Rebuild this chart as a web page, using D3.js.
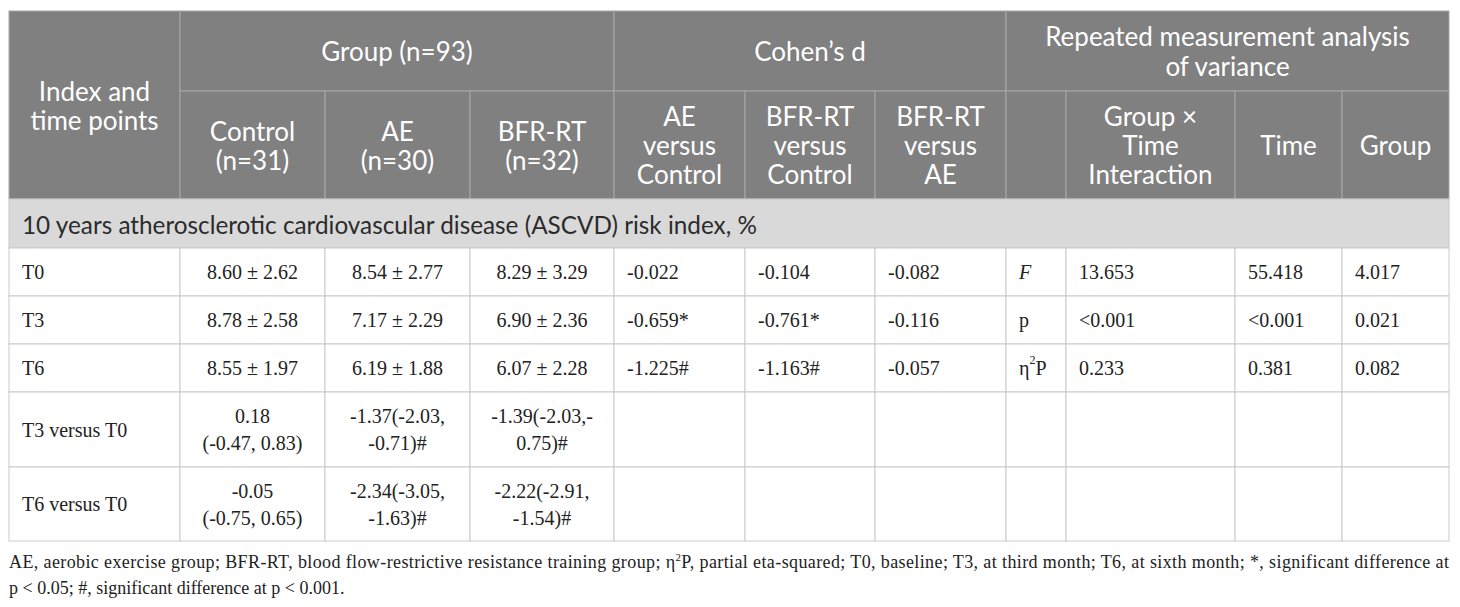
<!DOCTYPE html>
<html>
<head>
<meta charset="utf-8">
<script src="https://cdn.jsdelivr.net/npm/d3@7"></script>
<style>
  body { margin: 0; background: #fff; }
  .hd { font-family: Lato, "Open Sans", sans-serif; font-size: 26px; fill: #fff; }
  .sec { font-family: Lato, "Open Sans", sans-serif; font-size: 24.3px; fill: #2b2b2b; }
  .bd { font-family: "Liberation Serif", "Times New Roman", serif; font-size: 20px; fill: #222; }
  .fn { font-family: "Liberation Serif", "Times New Roman", serif; font-size: 18px; fill: #222; }
</style>
</head>
<body>
<div id="chart"></div>
<script>
// 表頭文字
var topHeaders = [["Group (n=93)"], ["Cohen\u2019s d"], ["Repeated measurement analysis", "of variance"]];
var subHeaders = [["Control", "(n=31)"], ["AE", "(n=30)"], ["BFR-RT", "(n=32)"],
                  ["AE", "versus", "Control"], ["BFR-RT", "versus", "Control"], ["BFR-RT", "versus", "AE"],
                  [""], ["Group \u00d7", "Time", "Interaction"], ["Time"], ["Group"]];
var cornerHeader = ["Index and", "time points"];
var sectionTitle = "10 years atherosclerotic cardiovascular disease (ASCVD) risk index, %";

// 數據
var timePoints = [["T0"], ["T3"], ["T6"], ["T3 versus T0"], ["T6 versus T0"]];
var controlVals = [["8.60 \u00b1 2.62"], ["8.78 \u00b1 2.58"], ["8.55 \u00b1 1.97"], ["0.18", "(-0.47, 0.83)"], ["-0.05", "(-0.75, 0.65)"]];
var aeVals = [["8.54 \u00b1 2.77"], ["7.17 \u00b1 2.29"], ["6.19 \u00b1 1.88"], ["-1.37(-2.03,", "-0.71)#"], ["-2.34(-3.05,", "-1.63)#"]];
var bfrVals = [["8.29 \u00b1 3.29"], ["6.90 \u00b1 2.36"], ["6.07 \u00b1 2.28"], ["-1.39(-2.03,-", "0.75)#"], ["-2.22(-2.91,", "-1.54)#"]];
var aeVsControl = ["-0.022", "-0.659*", "-1.225#"];
var bfrVsControl = ["-0.104", "-0.761*", "-1.163#"];
var bfrVsAe = ["-0.082", "-0.116", "-0.057"];
var statLabels = ["F", "p", "eta"];
var interactionVals = ["13.653", "<0.001", "0.233"];
var timeVals = ["55.418", "<0.001", "0.381"];
var groupVals = ["4.017", "0.021", "0.082"];

var footnote2 = "p < 0.05; #, significant difference at p < 0.001.";

var svg = d3.select('#chart')
    .append('svg')
    .attr('width', 1460)
    .attr('height', 607);

// 欄和列的邊界
var x = d3.scaleLinear()
    .domain(d3.range(12))
    .range([9, 180, 325, 470, 614, 745, 875, 1006, 1066, 1235, 1342, 1449]);
var y = d3.scaleLinear()
    .domain(d3.range(9))
    .range([11, 91, 199, 248, 296, 344, 392, 467, 541]);

var lineH = 29, bodyLineH = 27;

function cell(c0, c1, r0, r1, fill, stroke) {
    svg.append('rect')
        .attr('x', x(c0)).attr('y', y(r0))
        .attr('width', x(c1) - x(c0)).attr('height', y(r1) - y(r0))
        .attr('fill', fill).attr('stroke', stroke).attr('stroke-width', 1);
}

function label(lines, c0, c1, r0, r1, cls, align, lh) {
    var cx = align === 'middle' ? (x(c0) + x(c1)) / 2 : x(c0) + 13;
    var cy = (y(r0) + y(r1)) / 2 - (lines.length - 1) * lh / 2;
    var t = svg.append('text')
        .attr('class', cls)
        .attr('text-anchor', align === 'middle' ? 'middle' : 'start')
        .attr('dominant-baseline', 'central');
    lines.forEach(function(s, i) {
        t.append('tspan').attr('x', cx).attr('y', cy + i * lh).text(s);
    });
    return t;
}

// 表頭
cell(0, 1, 0, 2, '#808080', '#a8a8a8');
label(cornerHeader, 0, 1, 0, 2, 'hd', 'middle', lineH);
[[1, 4], [4, 7], [7, 11]].forEach(function(span, i) {
    cell(span[0], span[1], 0, 1, '#808080', '#a8a8a8');
    label(topHeaders[i], span[0], span[1], 0, 1, 'hd', 'middle', 29.5);
});
subHeaders.forEach(function(h, i) {
    cell(i + 1, i + 2, 1, 2, '#808080', '#a8a8a8');
    label(h, i + 1, i + 2, 1, 2, 'hd', 'middle', lineH);
});

// 分組標題列
cell(0, 11, 2, 3, '#d9d9d9', '#c8c8c8');
label([sectionTitle], 0, 11, 2, 3, 'sec', 'start', lineH);

// 內容
var columns = [timePoints, controlVals, aeVals, bfrVals,
               aeVsControl, bfrVsControl, bfrVsAe, statLabels,
               interactionVals, timeVals, groupVals];

timePoints.forEach(function(tp, r) {
    columns.forEach(function(col, c) {
        cell(c, c + 1, r + 3, r + 4, '#fff', '#cacaca');
        var v = col[r];
        if (v === undefined) return;
        var lines = Array.isArray(v) ? v : [v];
        var align = (c >= 1 && c <= 3) ? 'middle' : 'start';
        if (v === 'eta') {
            var t = label([''], c, c + 1, r + 3, r + 4, 'bd', align, bodyLineH);
            t.select('tspan').text('\u03b7');
            t.append('tspan').attr('dy', -8).attr('font-size', 12).text('2');
            t.append('tspan').attr('dy', 8).text('P');
            return;
        }
        var t2 = label(lines, c, c + 1, r + 3, r + 4, 'bd', align, bodyLineH);
        if (v === 'F') t2.attr('font-style', 'italic');
    });
});

// 註腳
var fn = svg.append('text').attr('class', 'fn')
    .attr('x', 9).attr('y', 568)
    .attr('textLength', 1440).attr('lengthAdjust', 'spacing');
fn.append('tspan').text("AE, aerobic exercise group; BFR-RT, blood flow-restrictive resistance training group; \u03b7");
fn.append('tspan').attr('dy', -7).attr('font-size', 11).text('2');
fn.append('tspan').attr('dy', 7).text("P, partial eta-squared; T0, baseline; T3, at third month; T6, at sixth month; *, significant difference at");
svg.append('text').attr('class', 'fn')
    .attr('x', 9).attr('y', 594)
    .text(footnote2);
</script>
</body>
</html>
